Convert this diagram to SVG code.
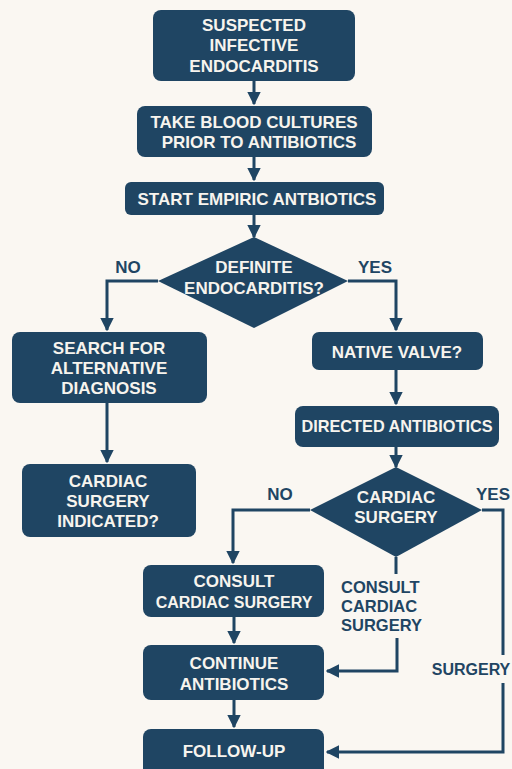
<svg xmlns="http://www.w3.org/2000/svg" width="512" height="769" viewBox="0 0 512 769">
<style>
.bg{fill:#faf7f2}
.n{fill:#1f4563}
.t{font-family:"Liberation Sans",Arial,sans-serif;font-weight:bold;font-size:17px;fill:#f7f4ee;text-anchor:middle}
.l{font-family:"Liberation Sans",Arial,sans-serif;font-weight:bold;font-size:17px;fill:#1f4563;text-anchor:middle}
.s{font-size:16.5px;text-anchor:start}
.c{fill:none;stroke:#1f4563;stroke-width:3}
</style>
<defs>
<marker id="ah" viewBox="0 0 10 10" refX="9" refY="5" markerWidth="4.5" markerHeight="4.5" markerUnits="strokeWidth" orient="auto">
<path d="M0,0 L10,5 L0,10 Z" fill="#1f4563"/>
</marker>
</defs>
<rect class="bg" x="0" y="0" width="512" height="769"/>
<g id="connectors">
<path class="c" d="M254,81 V104" marker-end="url(#ah)"/>
<path class="c" d="M254,157 V180" marker-end="url(#ah)"/>
<path class="c" d="M254,215 V237" marker-end="url(#ah)"/>
<path class="c" d="M158,281 H107 V330" marker-end="url(#ah)"/>
<path class="c" d="M348,281 H396 V330" marker-end="url(#ah)"/>
<path class="c" d="M396,370 V404" marker-end="url(#ah)"/>
<path class="c" d="M107,403 V462" marker-end="url(#ah)"/>
<path class="c" d="M396,447 V467" marker-end="url(#ah)"/>
<path class="c" d="M310,510 H233 V563" marker-end="url(#ah)"/>
<path class="c" d="M396,557 V574"/>
<path class="c" d="M397,638 V671 H327" marker-end="url(#ah)"/>
<path class="c" d="M482,510 H503 V655"/>
<path class="c" d="M503,683 V752 H327" marker-end="url(#ah)"/>
<path class="c" d="M234,617 V643" marker-end="url(#ah)"/>
<path class="c" d="M234,700 V727" marker-end="url(#ah)"/>
<text class="l" x="128" y="273">NO</text>
<text class="l" x="375" y="273">YES</text>
<text class="l" x="280" y="500">NO</text>
<text class="l" x="493" y="500">YES</text>
<text class="l" x="471" y="675" style="font-size:16px">SURGERY</text>
<text class="l s" x="341" y="593">CONSULT</text>
<text class="l s" x="341" y="612">CARDIAC</text>
<text class="l s" x="341" y="631">SURGERY</text>
</g>
<g id="n1"><rect class="n" x="153" y="10" width="202" height="71" rx="8"/>
<text class="t" x="254" y="31">SUSPECTED</text><text class="t" x="254" y="51">INFECTIVE</text><text class="t" x="254" y="72">ENDOCARDITIS</text></g>
<g id="n2"><rect class="n" x="137" y="106" width="235" height="51" rx="8"/>
<text class="t" x="254" y="128">TAKE BLOOD CULTURES</text><text class="t" x="259" y="148">PRIOR TO ANTIBIOTICS</text></g>
<g id="n3"><rect class="n" x="125" y="182" width="259" height="33" rx="6"/>
<text class="t" x="257" y="205">START EMPIRIC ANTBIOTICS</text></g>
<g id="d1"><path class="n" d="M254,237 L348,281 L254,328 L158,281 Z"/>
<text class="t" x="254" y="273">DEFINITE</text><text class="t" x="254" y="294">ENDOCARDITIS?</text></g>
<g id="n4"><rect class="n" x="12" y="332" width="195" height="71" rx="8"/>
<text class="t" x="109" y="354">SEARCH FOR</text><text class="t" x="109" y="374">ALTERNATIVE</text><text class="t" x="109" y="394">DIAGNOSIS</text></g>
<g id="n5"><rect class="n" x="312" y="332" width="171" height="38" rx="7"/>
<text class="t" x="397" y="358">NATIVE VALVE?</text></g>
<g id="n6"><rect class="n" x="295" y="406" width="204" height="41" rx="8"/>
<text class="t" x="397" y="432" style="font-size:16.3px">DIRECTED ANTIBIOTICS</text></g>
<g id="n7"><rect class="n" x="22" y="464" width="174" height="73" rx="8"/>
<text class="t" x="108" y="487">CARDIAC</text><text class="t" x="108" y="507">SURGERY</text><text class="t" x="108" y="527">INDICATED?</text></g>
<g id="d2"><path class="n" d="M396,467 L482,510 L396,557 L310,510 Z"/>
<text class="t" x="396" y="503">CARDIAC</text><text class="t" x="396" y="523">SURGERY</text></g>
<g id="n8"><rect class="n" x="143" y="565" width="181" height="52" rx="8"/>
<text class="t" x="234" y="587">CONSULT</text><text class="t" x="234" y="608" style="font-size:16px">CARDIAC SURGERY</text></g>
<g id="n9"><rect class="n" x="143" y="645" width="181" height="55" rx="8"/>
<text class="t" x="234" y="669">CONTINUE</text><text class="t" x="234" y="690">ANTIBIOTICS</text></g>
<g id="n10"><rect class="n" x="143" y="729" width="181" height="48" rx="8"/>
<text class="t" x="234" y="757">FOLLOW-UP</text></g>
</svg>
